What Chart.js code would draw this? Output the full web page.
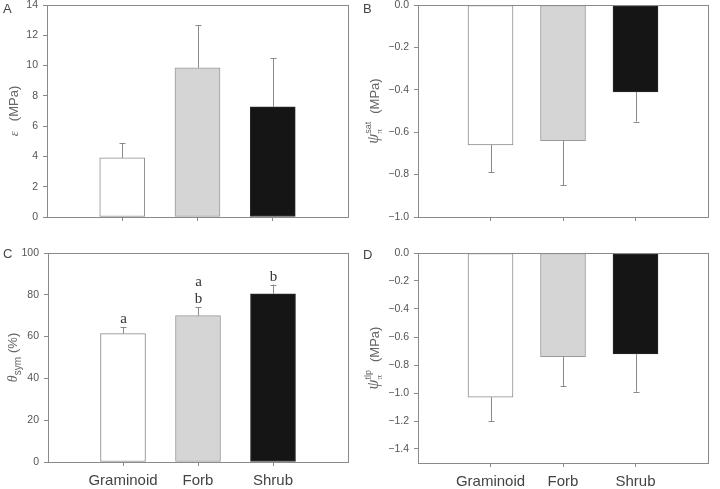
<!DOCTYPE html>
<html>
<head>
<meta charset="utf-8">
<script src="https://cdn.jsdelivr.net/npm/chart.js@4.4.1/dist/chart.umd.min.js"></script>
<style>
  body { margin: 0; background: #fff; width: 720px; height: 489px; position: relative; overflow: hidden; }
  .panel { position: absolute; }
</style>
</head>
<body>
<div class="panel" style="left:0;top:0;width:360px;height:240px"><canvas id="chartA"></canvas></div>
<div class="panel" style="left:360px;top:0;width:360px;height:240px"><canvas id="chartB"></canvas></div>
<div class="panel" style="left:0;top:240px;width:360px;height:249px"><canvas id="chartC"></canvas></div>
<div class="panel" style="left:360px;top:240px;width:360px;height:249px"><canvas id="chartD"></canvas></div>
<script>
// categories (first and last slots are empty, as in the original axis)
var groups = ["Graminoid", "Forb", "Shrub"];
var labels = [""].concat(groups).concat([""]);

// A: bulk modulus of elasticity (MPa)
var epsMean = [3.9, 9.85, 7.27];
var epsErr = [1.0, 2.8, 3.2];
// B: osmotic potential at full turgor (MPa)
var satMean = [-0.66, -0.64, -0.41];
var satErr = [0.13, 0.21, 0.14];
// C: symplastic water fraction (%)
var symMean = [61.4, 70.0, 80.5];
var symErr = [3.0, 4.0, 4.4];
var symLetters = [["a"], ["b", "a"], ["b"]];
// D: osmotic potential at turgor loss point (MPa)
var tlpMean = [-1.03, -0.74, -0.72];
var tlpErr = [0.17, 0.21, 0.27];

var barFills = ["#ffffff", "#d5d5d5", "#151515"];
var barEdges = ["#8c8c8c", "#9a9a9a", "#2a2a2a"];
var axisGrey = "#8a8a8a";
var textGrey = "#555555";
var SANS = "'Liberation Sans', Arial, sans-serif";
var SERIF = "'Liberation Serif', 'Times New Roman', serif";

function pad(arr) { return [null].concat(arr).concat([null]); }

function minusFmt(v) {
    if (Math.abs(v) < 1e-9) return "0.0";
    return (v < 0 ? "\u2212" : "") + Math.abs(v).toFixed(1);
}

// error bars (one-sided, away from zero) + significance letters
var errorBars = {
    id: "errorBars",
    afterDatasetsDraw: function (chart, args, opts) {
        var ctx = chart.ctx;
        var y = chart.scales.y;
        var meta = chart.getDatasetMeta(0);
        ctx.save();
        ctx.strokeStyle = axisGrey;
        ctx.lineWidth = 1;
        opts.mean.forEach(function (m, i) {
            var bar = meta.data[i + 1];
            var sign = m < 0 ? -1 : 1;
            var x = Math.round(bar.x) + 0.5;
            var y1 = y.getPixelForValue(m);
            var y2 = y.getPixelForValue(m + sign * opts.err[i]);
            ctx.beginPath();
            ctx.moveTo(x, y1);
            ctx.lineTo(x, y2);
            ctx.moveTo(x - 3, Math.round(y2) + 0.5);
            ctx.lineTo(x + 3, Math.round(y2) + 0.5);
            ctx.stroke();
            if (opts.letters) {
                ctx.fillStyle = "#333";
                ctx.font = "15px " + SERIF;
                ctx.textAlign = "center";
                ctx.textBaseline = "alphabetic";
                opts.letters[i].forEach(function (l, k) {
                    ctx.fillText(l, x, y2 - 4 - k * 17);
                });
            }
        });
        ctx.restore();
    }
};

// frame around the plot area, panel letter and the y axis title
var frame = {
    id: "frame",
    afterDraw: function (chart, args, opts) {
        var ctx = chart.ctx;
        var a = chart.chartArea;
        ctx.save();
        ctx.strokeStyle = axisGrey;
        ctx.lineWidth = 1;
        ctx.strokeRect(Math.round(a.left) + 0.5, Math.round(a.top) + 0.5,
            Math.round(a.right - a.left), Math.round(a.bottom - a.top));

        ctx.fillStyle = "#444";
        ctx.font = "13px " + SANS;
        ctx.textAlign = "left";
        ctx.textBaseline = "alphabetic";
        ctx.fillText(opts.letter, opts.letterX, opts.letterY);

        // rotated title with sub/superscripts
        var parts = opts.title;
        var x = 0, slotX = 0, slotW = 0, placed = [];
        parts.forEach(function (p, i) {
            ctx.font = p.f;
            var w = ctx.measureText(p.t).width;
            x += p.gap || 0;
            if (p.stack && i > 0 && parts[i - 1].stack) {
                placed.push(slotX);
                slotW = Math.max(slotW, w);
                x = slotX + slotW;
            } else {
                slotX = x; slotW = w;
                placed.push(x);
                x += w;
            }
        });
        ctx.translate(opts.titleX, (a.top + a.bottom) / 2);
        ctx.rotate(-Math.PI / 2);
        ctx.fillStyle = "#666";
        parts.forEach(function (p, i) {
            ctx.font = p.f;
            ctx.fillText(p.t, placed[i] - x / 2, p.dy || 0);
        });
        ctx.restore();
    }
};

function makePanel(id, opt) {
    var ctx = document.getElementById(id).getContext("2d");
    return new Chart(ctx, {
        type: "bar",
        data: {
            labels: labels,
            datasets: [{
                data: pad(opt.mean),
                backgroundColor: pad(barFills),
                borderColor: pad(barEdges),
                borderWidth: 1,
                borderSkipped: false,
                barThickness: 45
            }]
        },
        options: {
            responsive: true,
            maintainAspectRatio: false,
            animation: false,
            layout: { padding: { top: opt.top, right: 12, left: 0, bottom: 0 } },
            plugins: {
                legend: { display: false },
                tooltip: { enabled: false },
                errorBars: { mean: opt.mean, err: opt.err, letters: opt.letters },
                frame: {
                    letter: opt.letter, letterX: 3, letterY: opt.letterY,
                    title: opt.title, titleX: opt.titleX
                }
            },
            scales: {
                x: {
                    offset: false,
                    afterFit: function (s) { s.height = opt.xHeight; },
                    grid: {
                        offset: false,
                        drawOnChartArea: false,
                        tickLength: 4,
                        color: function (c) {
                            return (c.index === 0 || c.index === 4) ? "rgba(0,0,0,0)" : axisGrey;
                        }
                    },
                    border: { color: axisGrey },
                    ticks: {
                        display: opt.showLabels,
                        autoSkip: false,
                        maxRotation: 0,
                        padding: 6,
                        color: "#444",
                        font: { family: SANS, size: 15 }
                    }
                },
                y: {
                    min: opt.min,
                    max: opt.max,
                    afterFit: function (s) {
                        s.width = opt.yWidth;
                        s.paddingTop = 0;
                        s.paddingBottom = 0;
                    },
                    afterBuildTicks: function (s) {
                        s.ticks = s.ticks.filter(function (t) { return t.value >= opt.lowTick - 1e-6; });
                    },
                    grid: { drawOnChartArea: false, tickLength: 4, color: axisGrey },
                    border: { color: axisGrey },
                    ticks: {
                        stepSize: opt.step,
                        padding: 5,
                        color: textGrey,
                        font: { family: SANS, size: 10.5, lineHeight: 1 },
                        callback: opt.fmt
                    }
                }
            }
        },
        plugins: [errorBars, frame]
    });
}

var intFmt = function (v) { return String(v); };

makePanel("chartA", {
    mean: epsMean, err: epsErr, min: 0, max: 14, step: 2, lowTick: 0, fmt: intFmt,
    top: 5, xHeight: 23, yWidth: 47, showLabels: false,
    letter: "A", letterY: 13, titleX: 18,
    title: [
        { t: "\u03b5", f: "italic 13px " + SERIF },
        { t: "(MPa)", f: "13px " + SANS, gap: 10 }
    ]
});

makePanel("chartB", {
    mean: satMean, err: satErr, min: -1, max: 0, step: 0.2, lowTick: -1, fmt: minusFmt,
    top: 5, xHeight: 23, yWidth: 58, showLabels: false,
    letter: "B", letterY: 13, titleX: 19,
    title: [
        { t: "\u03c8", f: "italic 16px " + SERIF, dy: -1 },
        { t: "sat", f: "9px " + SANS, dy: -8, stack: true },
        { t: "\u03c0", f: "9px " + SERIF, dy: 3, stack: true },
        { t: "(MPa)", f: "13px " + SANS, gap: 8 }
    ]
});

makePanel("chartC", {
    mean: symMean, err: symErr, letters: symLetters, min: 0, max: 100, step: 20, lowTick: 0, fmt: intFmt,
    top: 13, xHeight: 27, yWidth: 48, showLabels: true,
    letter: "C", letterY: 18, titleX: 17,
    title: [
        { t: "\u03b8", f: "italic 14px " + SERIF },
        { t: "sym", f: "10px " + SANS, dy: 4 },
        { t: "(%)", f: "13px " + SANS, gap: 4 }
    ]
});

makePanel("chartD", {
    mean: tlpMean, err: tlpErr, min: -1.5, max: 0, step: 0.2, lowTick: -1.4, fmt: minusFmt,
    top: 13, xHeight: 26, yWidth: 58, showLabels: true,
    letter: "D", letterY: 19, titleX: 19,
    title: [
        { t: "\u03c8", f: "italic 16px " + SERIF, dy: -1 },
        { t: "tlp", f: "9px " + SANS, dy: -8, stack: true },
        { t: "\u03c0", f: "9px " + SERIF, dy: 3, stack: true },
        { t: "(MPa)", f: "13px " + SANS, gap: 8 }
    ]
});
</script>
</body>
</html>
